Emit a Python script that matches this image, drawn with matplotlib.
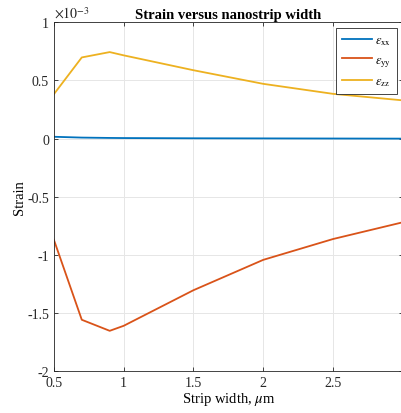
import numpy as np
import matplotlib
matplotlib.use('Agg')
import matplotlib.pyplot as plt

# Strain data (values in units of 1e-3)
width_um = [0.5, 0.7, 0.9, 1.0, 1.5, 2.0, 2.5, 3.0]
eps_xx = [0.015, 0.008, 0.005, 0.004, 0.002, 0.001, 0.0, -0.001]
eps_yy = [-0.87, -1.558, -1.653, -1.61, -1.304, -1.043, -0.864, -0.72]
eps_zz = [0.381, 0.697, 0.743, 0.715, 0.587, 0.47, 0.384, 0.328]

labels = [r'$\epsilon_{\mathrm{xx}}$', r'$\epsilon_{\mathrm{yy}}$', r'$\epsilon_{\mathrm{zz}}$']
colors = ['#0072BD', '#D95319', '#EDB120']

x_ticks = [0.5, 1, 1.5, 2, 2.5, 3]
x_ticklabels = ['0.5', '1', '1.5', '2', '2.5', '']
y_ticks = [-2, -1.5, -1, -0.5, 0, 0.5, 1]
y_ticklabels = ['-2', '-1.5', '-1', '-0.5', '0', '0.5', '1']

plt.rcParams['font.family'] = ['Liberation Serif', 'DejaVu Serif']
plt.rcParams['mathtext.fontset'] = 'stix'
plt.rcParams['font.size'] = 10

fig = plt.figure(figsize=(4.02, 4.14), dpi=100)
ax = fig.add_axes([0.134, 0.101, 0.868, 0.843])

x = np.array(width_um)
for series, lab, col in zip([eps_xx, eps_yy, eps_zz], labels, colors):
    ax.plot(x, np.array(series) * 1e-3, color=col, linewidth=1.3, label=lab)

ax.set_xlim(0.5, 3.0)
ax.set_ylim(-2e-3, 1e-3)
ax.set_xticks(x_ticks)
ax.set_xticklabels(x_ticklabels)
ax.set_yticks(np.array(y_ticks) * 1e-3)
ax.set_yticklabels(y_ticklabels)
ax.text(0.0, 1.005, r'$\times10^{-3}$', transform=ax.transAxes,
        ha='left', va='bottom', fontsize=10, color='#262626')

ax.grid(True, color='#e6e6e6', linewidth=0.7)
ax.tick_params(direction='in', length=3, width=0.6, colors='#262626',
               labelsize=10, top=True, right=True)
for sp in ax.spines.values():
    sp.set_color('#262626')
    sp.set_linewidth(0.6)

ax.set_title('Strain versus nanostrip width', fontweight='bold', fontsize=10.5, pad=3)
ax.set_xlabel(r'Strip width, $\mu$m', fontsize=10.5, labelpad=1)
ax.set_ylabel('Strain', fontsize=10.5, labelpad=1)

leg = ax.legend(loc='upper right', fontsize=9, fancybox=False,
                edgecolor='#262626', framealpha=1, handlelength=2.4,
                handletextpad=0.25, borderaxespad=0.5, labelspacing=0.55,
                borderpad=0.45)
leg.get_frame().set_linewidth(0.6)

fig.savefig('out.png', dpi=100)
